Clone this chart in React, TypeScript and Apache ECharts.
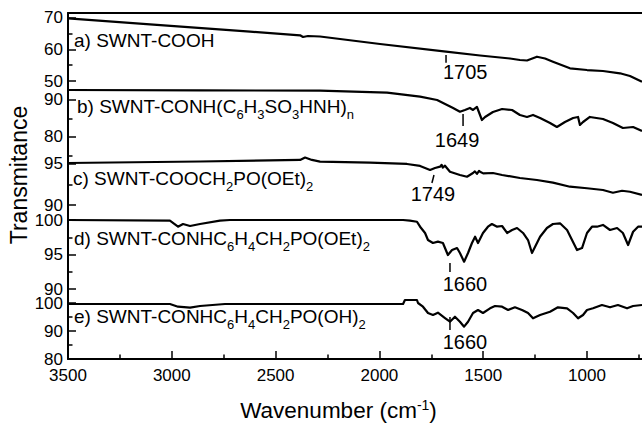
import React, { useEffect, useRef } from "react";
import * as echarts from "echarts";

const FONT = "'Liberation Sans', Arial, Helvetica, sans-serif";

// ---- axis ticks ----
const xMajorTicks = [1000, 1500, 2000, 2500, 3000, 3500];
const xMinorTicks = [750, 1250, 1750, 2250, 2750, 3250];

const yMajorA = [50, 60, 70];
const yMinorA = [55, 65];
const yMajorB = [80, 90];
const yMinorB = [75, 85];
const yMajorC = [90, 95];
const yMinorC = [92.5];
const yMajorD = [90, 95, 100];
const yMinorD = [92.5, 97.5];
const yMajorE = [80, 90, 100];
const yMinorE = [85, 95];

// ---- spectra: [wavenumber, transmittance] ----
const specA = [
  [3500, 69.75], [3105, 67.86], [2623, 65.56], [2382, 64.39], [2368, 63.86], [2344, 64.17],
  [2286, 64.02], [1997, 61.65], [1679, 59.23], [1515, 58.03], [1371, 57.09], [1323, 56.61],
  [1289, 56.46], [1241, 57.65], [1202, 57.09], [1164, 56.08], [1082, 54.0], [1000, 53.46],
  [923, 53.15], [841, 52.43], [793, 51.57], [735, 49.78],
];

const specB = [
  [3500, 92.7], [2864, 92.62], [2286, 92.51], [1963, 91.97], [1804, 90.89], [1722, 90.0],
  [1674, 88.65], [1645, 87.84], [1612, 86.84], [1588, 87.3], [1564, 87.84], [1549, 87.3],
  [1530, 88.11], [1506, 84.59], [1491, 85.41], [1453, 86.76], [1409, 87.57], [1361, 87.3],
  [1323, 85.95], [1289, 85.41], [1260, 85.95], [1226, 85.14], [1178, 83.78], [1145, 82.7],
  [1106, 84.05], [1067, 85.14], [1043, 85.41], [1034, 83.24], [1019, 84.05], [986, 85.41],
  [923, 84.86], [875, 83.78], [827, 82.43], [778, 82.7], [735, 81.62],
];

const specC = [
  [3500, 95.12], [2864, 95.3], [2382, 95.49], [2358, 95.79], [2325, 95.49], [2286, 95.28],
  [2045, 95.16], [1867, 95.0], [1804, 94.76], [1756, 94.27], [1732, 94.51], [1708, 94.67],
  [1700, 94.9], [1695, 94.55], [1684, 94.79], [1660, 94.06], [1612, 93.66], [1578, 93.45],
  [1549, 93.9], [1540, 94.1], [1530, 93.8], [1520, 94.15], [1515, 94.06], [1500, 93.85],
  [1453, 93.9], [1409, 93.66], [1323, 93.29], [1241, 93.05], [1164, 92.72], [1082, 92.23],
  [1000, 92.04], [923, 91.83], [875, 91.5], [831, 91.74], [793, 91.62], [735, 91.22],
];

const specD = [
  [3500, 100], [3009, 99.9], [2970, 99.03], [2946, 99.42], [2912, 99.13], [2864, 99.42],
  [2768, 99.9], [2720, 100], [1886, 100], [1853, 99.9], [1819, 99.75], [1804, 99.03],
  [1780, 98.12], [1766, 97.1], [1742, 96.67], [1718, 96.86], [1694, 96.67], [1670, 94.93],
  [1650, 95.65], [1626, 95.94], [1612, 95.22], [1592, 93.96], [1573, 95.22], [1554, 96.67],
  [1539, 97.58], [1525, 96.67], [1501, 98.12], [1477, 99.03], [1458, 99.42], [1433, 99.03],
  [1409, 99.13], [1385, 98.12], [1361, 98.55], [1337, 98.84], [1308, 98.12], [1284, 97.1],
  [1265, 95.22], [1250, 96.13], [1226, 97.58], [1193, 98.84], [1164, 99.42], [1130, 99.52],
  [1096, 98.55], [1072, 97.1], [1048, 95.65], [1024, 95.94], [1000, 98.12], [976, 99.03],
  [952, 99.03], [923, 99.28], [889, 98.55], [855, 98.84], [827, 98.12], [802, 96.38],
  [778, 98.3], [754, 99.03], [735, 99.03],
];

const specE = [
  [3500, 99.64], [3009, 99.64], [2970, 98.68], [2912, 98.32], [2864, 98.93], [2744, 99.64],
  [1886, 99.64], [1877, 101.07], [1819, 101.07], [1814, 100], [1790, 98.68], [1766, 96.43],
  [1742, 95.71], [1718, 96.54], [1684, 94.64], [1660, 93.32], [1636, 95.11], [1612, 93.32],
  [1592, 91.54], [1573, 93.32], [1549, 96.43], [1525, 97.5], [1501, 96.43], [1467, 98.11],
  [1443, 98.93], [1409, 98.68], [1380, 97.5], [1347, 98.46], [1313, 97.5], [1284, 96.43],
  [1260, 94.54], [1226, 95.71], [1178, 96.89], [1140, 98.46], [1096, 98.11], [1067, 96.43],
  [1043, 94.54], [1019, 95.71], [1000, 97.5], [971, 98.11], [928, 99.29], [889, 98.46],
  [851, 99.29], [807, 98.11], [778, 98.93], [735, 99.29],
];

// ---- peak annotations ----
const peakLabels = ["1705", "1649", "1749", "1660", "1660"];
const peakTickTopWn = [1679, 1597, 1737, 1660, 1660];
const peakTickBottomWn = [1679, 1597, 1747, 1660, 1660];
const peakTickTop = [58.19, 86.22, 93.66, 93.77, 95.0];
const peakTickBottom = [55.76, 82.97, 92.68, 92.46, 90.36];
const peakLabelWn = [1587, 1626, 1742, 1588, 1588];
const peakLabelVal = [52.99, 79.19, 91.34, 90.72, 86.07];

// ---- panel titles (rich text) ----
const panelTitles = [
  "{n|a) SWNT-COOH}",
  "{n|b) SWNT-CONH(C}{s|6}{n|H}{s|3}{n|SO}{s|3}{n|HNH)}{s|n}",
  "{n|c) SWNT-COOCH}{s|2}{n|PO(OEt)}{s|2}",
  "{n|d) SWNT-CONHC}{s|6}{n|H}{s|4}{n|CH}{s|2}{n|PO(OEt)}{s|2}",
  "{n|e) SWNT-CONHC}{s|6}{n|H}{s|4}{n|CH}{s|2}{n|PO(OH)}{s|2}",
];

const X_MIN = 735;
const X_MAX = 3500;

// layout of the stacked panels (pixels / axis extents)
const layout = [
  { top: 13, height: 77, min: 47.17, max: 71.42, titleX: 74, titleY: 40.5 },
  { top: 90, height: 72, min: 73.24, max: 92.7, titleX: 77, titleY: 106.5 },
  { top: 162, height: 50, min: 89.15, max: 95.24, titleX: 73, titleY: 178.5 },
  { top: 212, height: 84, min: 88.99, max: 101.16, titleX: 74, titleY: 238.5 },
  { top: 296, height: 63, min: 80, max: 102.5, titleX: 74, titleY: 316.5 },
];

const spectra = [specA, specB, specC, specD, specE];
const majors = [yMajorA, yMajorB, yMajorC, yMajorD, yMajorE];
const minors = [yMinorA, yMinorB, yMinorC, yMinorD, yMinorE];

function buildOption() {
  const grid = layout.map((p) => ({ left: 68, right: 0, top: p.top, height: p.height }));

  const xAxis: any[] = layout.map((_, i) => ({
    gridIndex: i,
    type: "value",
    min: X_MIN,
    max: X_MAX,
    inverse: true,
    show: i === 0 || i === 4,
    position: i === 0 ? "top" : "bottom",
    axisLine: { show: true, lineStyle: { color: "#000", width: 2 } },
    axisTick: i === 4
      ? { show: true, inside: true, length: 8, customValues: xMajorTicks, lineStyle: { color: "#000", width: 1.5 } }
      : { show: false },
    axisLabel: i === 4
      ? {
          show: true,
          customValues: xMajorTicks,
          fontSize: 17,
          fontFamily: FONT,
          color: "#000",
          margin: 8,
          formatter: (v: number) => String(Math.round(v)),
        }
      : { show: false },
    splitLine: { show: false },
  }));
  xAxis.push({
    gridIndex: 4,
    type: "value",
    min: X_MIN,
    max: X_MAX,
    inverse: true,
    position: "bottom",
    axisLine: { show: false },
    axisTick: { show: true, inside: true, length: 4.5, customValues: xMinorTicks, lineStyle: { color: "#000", width: 1.5 } },
    axisLabel: { show: false },
    splitLine: { show: false },
  });

  const yAxis: any[] = [];
  layout.forEach((p, i) => {
    yAxis.push({
      gridIndex: i,
      type: "value",
      min: p.min,
      max: p.max,
      position: "left",
      axisLine: { show: true, lineStyle: { color: "#000", width: 2 } },
      axisTick: { show: true, inside: true, length: 8, customValues: majors[i], lineStyle: { color: "#000", width: 1.5 } },
      axisLabel: {
        show: true,
        customValues: majors[i],
        fontSize: 17,
        fontFamily: FONT,
        color: "#000",
        margin: 5,
        formatter: (v: number) => String(v),
      },
      splitLine: { show: false },
    });
    yAxis.push({
      gridIndex: i,
      type: "value",
      min: p.min,
      max: p.max,
      position: "left",
      axisLine: { show: false },
      axisTick: { show: true, inside: true, length: 4.5, customValues: minors[i], lineStyle: { color: "#000", width: 1.5 } },
      axisLabel: { show: false },
      splitLine: { show: false },
    });
  });

  const series: any[] = [];
  spectra.forEach((d, i) => {
    series.push({
      type: "line",
      xAxisIndex: i,
      yAxisIndex: 2 * i,
      data: d,
      symbol: "none",
      showSymbol: false,
      clip: false,
      silent: true,
      lineStyle: { color: "#000", width: 2.2, join: "round" },
    });
    series.push({
      type: "line",
      xAxisIndex: i,
      yAxisIndex: 2 * i,
      data: [
        [peakTickTopWn[i], peakTickTop[i]],
        [peakTickBottomWn[i], peakTickBottom[i]],
      ],
      symbol: "none",
      clip: false,
      silent: true,
      lineStyle: { color: "#000", width: 1.5 },
    });
    series.push({
      type: "scatter",
      xAxisIndex: i,
      yAxisIndex: 2 * i,
      symbolSize: 0,
      clip: false,
      silent: true,
      itemStyle: { opacity: 1, color: "#000" },
      data: [{ value: [peakLabelWn[i], peakLabelVal[i]], name: peakLabels[i] }],
      label: {
        show: true,
        position: "inside",
        formatter: "{b}",
        fontSize: 20,
        fontFamily: FONT,
        color: "#000",
        opacity: 1,
        textBorderWidth: 0,
        textBorderColor: "transparent",
      },
    });
  });

  const graphic: any[] = layout.map((p, i) => ({
    type: "text",
    x: p.titleX,
    y: p.titleY + 2.5,
    silent: true,
    style: {
      text: panelTitles[i],
      fill: "#000",
      fontFamily: FONT,
      fontSize: 19,
      align: "left",
      verticalAlign: "middle",
      rich: {
        n: { fontSize: 19, fontFamily: FONT, fill: "#000", lineHeight: 24, verticalAlign: "top" },
        s: { fontSize: 13, fontFamily: FONT, fill: "#000", lineHeight: 13, verticalAlign: "bottom" },
      },
    },
  }));
  graphic.push({
    type: "text",
    x: 19,
    y: 175,
    rotation: Math.PI / 2,
    silent: true,
    style: {
      text: "Transmitance",
      fill: "#000",
      fontFamily: FONT,
      fontSize: 23,
      align: "center",
      verticalAlign: "middle",
    },
  });
  graphic.push({
    type: "text",
    x: 338.5,
    y: 410,
    silent: true,
    style: {
      text: "{n|Wavenumber (cm}{p|-1}{n|)}",
      fill: "#000",
      fontFamily: FONT,
      fontSize: 22.5,
      align: "center",
      verticalAlign: "middle",
      rich: {
        n: { fontSize: 22.5, fontFamily: FONT, fill: "#000", lineHeight: 24, verticalAlign: "middle" },
        p: { fontSize: 14, fontFamily: FONT, fill: "#000", lineHeight: 8, verticalAlign: "top" },
      },
    },
  });

  return {
    animation: false,
    backgroundColor: "#fff",
    grid,
    xAxis,
    yAxis,
    series,
    graphic,
  };
}

export default function App() {
  const ref = useRef<HTMLDivElement>(null);
  useEffect(() => {
    if (!ref.current) return;
    const chart = echarts.init(ref.current, null, { renderer: "svg" });
    chart.setOption(buildOption() as any);
    return () => chart.dispose();
  }, []);
  return (
    <div
      ref={ref}
      style={{ position: "absolute", left: 0, top: 0, width: 642, height: 424, background: "#fff" }}
    />
  );
}
